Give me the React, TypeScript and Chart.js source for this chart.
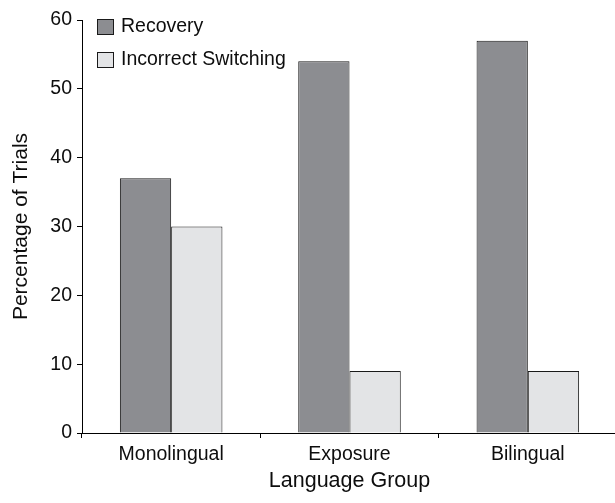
import React, { useEffect, useRef } from "react";
import { Chart, registerables } from "chart.js";

Chart.register(...registerables);

const categories = ["Monolingual", "Exposure", "Bilingual"];
const seriesNames = ["Recovery", "Incorrect Switching"];
const recovery = [37, 54, 57];
const incorrectSwitching = [30, 9, 9];
const yTicks = { min: 0, max: 60, step: 10 };
const xTitle = "Language Group";
const yTitle = "Percentage of Trials";

const FONT = "'Liberation Sans', Arial, sans-serif";
const fills = ["#8c8d91", "#e3e4e6"];
const border = "#1a1a1a";
const textColor = "#0d0d0d";

const legendPlugin = {
  id: "insideLegend",
  afterDraw(chart: any) {
    const ctx = chart.ctx;
    ctx.save();
    ctx.font = `19.5px ${FONT}`;
    ctx.textBaseline = "middle";
    ctx.textAlign = "left";
    chart.data.datasets.forEach((ds: any, i: number) => {
      const x = 97;
      const y = 19 + i * 33;
      ctx.fillStyle = ds.backgroundColor;
      ctx.fillRect(x + 0.5, y + 0.5, 16, 15);
      ctx.strokeStyle = border;
      ctx.lineWidth = 1;
      ctx.strokeRect(x + 0.5, y + 0.5, 16, 15);
      ctx.fillStyle = textColor;
      ctx.fillText(ds.label, 121, y + 8);
    });
    ctx.restore();
  },
};

export default function App() {
  const ref = useRef<HTMLCanvasElement | null>(null);
  useEffect(() => {
    if (!ref.current) return;
    const chart = new Chart(ref.current, {
      type: "bar",
      data: {
        labels: categories,
        datasets: [
          {
            label: seriesNames[0],
            data: recovery,
            backgroundColor: fills[0],
            borderColor: border,
            borderWidth: 1,
          },
          {
            label: seriesNames[1],
            data: incorrectSwitching,
            backgroundColor: fills[1],
            borderColor: border,
            borderWidth: 1,
          },
        ],
      },
      options: {
        animation: false,
        responsive: false,
        maintainAspectRatio: false,
        layout: { padding: { top: 20, right: 0, bottom: 0, left: 0 } },
        categoryPercentage: 0.575,
        barPercentage: 1,
        plugins: { legend: { display: false }, tooltip: { enabled: false } },
        scales: {
          x: {
            grid: {
              offset: true,
              drawOnChartArea: false,
              drawTicks: true,
              tickLength: 5,
              color: "#000",
            },
            border: { display: true, color: "#000", width: 1 },
            ticks: {
              color: textColor,
              font: { family: FONT, size: 19.5 },
              padding: 5,
            },
            title: {
              display: true,
              text: xTitle,
              color: textColor,
              font: { family: FONT, size: 21.5 },
              padding: { top: 0, bottom: 9 },
            },
            afterFit: (s: any) => {
              s.height = 70;
            },
          },
          y: {
            min: yTicks.min,
            max: yTicks.max,
            grid: {
              drawOnChartArea: false,
              drawTicks: true,
              tickLength: 5,
              color: "#000",
            },
            border: { display: true, color: "#000", width: 1 },
            ticks: {
              stepSize: yTicks.step,
              color: textColor,
              font: { family: FONT, size: 19.5 },
              padding: 5,
            },
            title: {
              display: true,
              text: yTitle,
              color: textColor,
              font: { family: FONT, size: 21 },
              padding: { top: 9, bottom: 0 },
            },
            afterFit: (s: any) => {
              s.width = 82;
            },
          },
        },
      } as any,
      plugins: [legendPlugin],
    });
    return () => chart.destroy();
  }, []);
  return (
    <>
      <style>{"body{margin:0;overflow:hidden;background:#fff}"}</style>
      <div style={{ width: 617, height: 503 }}>
        <canvas ref={ref} width={617} height={503} style={{ display: "block" }} />
      </div>
    </>
  );
}
